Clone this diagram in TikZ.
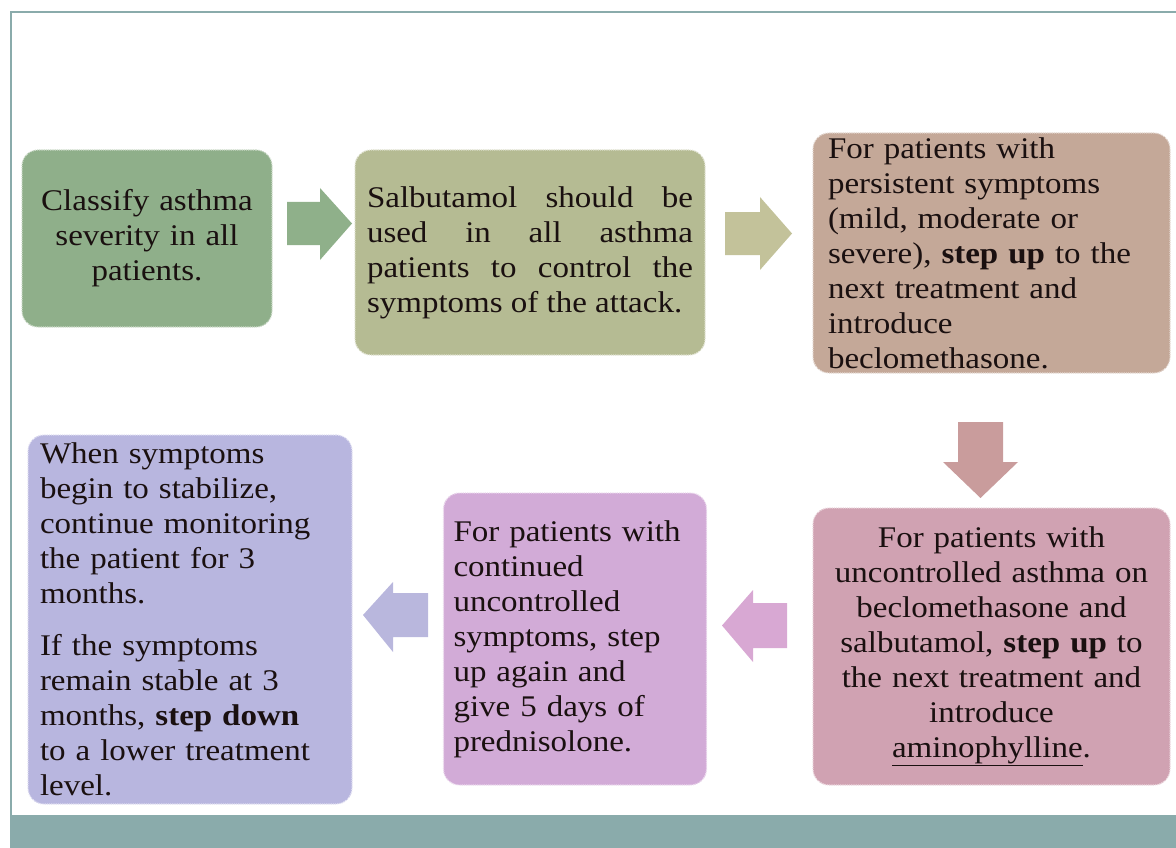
\documentclass[tikz,border=0pt]{standalone}
\usepackage{fontspec}
\setmainfont{Liberation Serif}[FakeStretch=1.1]
\definecolor{frameC}{HTML}{8AABAB}
\definecolor{cA}{HTML}{8FAF8A}
\definecolor{cAa}{HTML}{8FB08A}
\definecolor{cB}{HTML}{B5BB93}
\definecolor{cBa}{HTML}{C3C29A}
\definecolor{cC}{HTML}{C4A898}
\definecolor{cCa}{HTML}{C99C9C}
\definecolor{cD}{HTML}{D0A2B2}
\definecolor{cDa}{HTML}{D8A8D3}
\definecolor{cE}{HTML}{D2ABD7}
\definecolor{cEa}{HTML}{B9B7DD}
\definecolor{cF}{HTML}{B8B6DF}
\definecolor{txt}{HTML}{1A1010}
\tikzset{
  stepbox/.style={rectangle, rounded corners=16pt, inner sep=0pt,
    fill=#1, draw=white!55!#1, densely dotted, line width=1.2pt,
    font=\fontsize{30}{35}\selectfont, text=txt},
}
\begin{document}
\begin{tikzpicture}[x=1pt,y=-1pt]
\useasboundingbox (0,0) rectangle (1176,848);
% frame
\draw[frameC, line width=2pt] (11,848) -- (11,12) -- (1176,12);
\fill[frameC] (10,815) rectangle (1176,848);
% boxes
\node[stepbox=cA, minimum width=250pt, minimum height=177pt, text width=230pt, align=center]
  (b1) at (147,238.5) {Classify asthma\\ severity in all\\ patients.};
\node[stepbox=cB, minimum width=350pt, minimum height=205pt, text width=326pt, align=justify]
  (b2) at (530,252.5) {Salbutamol should be\linebreak used in all asthma\linebreak patients to control the\linebreak symptoms of the attack.};
\node[stepbox=cC, minimum width=357pt, minimum height=240pt, text width=327pt, align=left]
  (b3) at (991.5,253) {For patients with\\ persistent symptoms\\ (mild, moderate or\\ severe), \textbf{step up} to the\\ next treatment and\\ introduce\\ beclomethasone.};
\node[stepbox=cD, minimum width=357pt, minimum height=277pt, text width=337pt, align=center]
  (b4) at (991.5,646.5) {For patients with\\ uncontrolled asthma on\\ beclomethasone and\\ salbutamol, \textbf{step up} to\\ the next treatment and\\ introduce\\ \underline{aminophylline}.};
\node[stepbox=cE, minimum width=263pt, minimum height=292pt, text width=243pt, align=left]
  (b5) at (575,639) {For patients with\\ continued\\ uncontrolled\\ symptoms, step\\ up again and\\ give 5 days of\\ prednisolone.};
\node[stepbox=cF, minimum width=324pt, minimum height=369pt, text width=300pt, align=left]
  (b6) at (190,619.5) {When symptoms\\ begin to stabilize,\\ continue monitoring\\ the patient for 3\\ months.\\[17pt] If the symptoms\\ remain stable at 3\\ months, \textbf{step down}\\ to a lower treatment\\ level.};
% block arrows
\fill[cAa] (287,202) -- (320,202) -- (320,188) -- (352,223.5) -- (320,260) -- (320,245) -- (287,245) -- cycle;
\fill[cBa] (725,212) -- (760,212) -- (760,197) -- (792,233.5) -- (760,270) -- (760,255) -- (725,255) -- cycle;
\fill[cCa] (958,422) -- (1003,422) -- (1003,462) -- (1018,462) -- (980.5,498) -- (943,462) -- (958,462) -- cycle;
\fill[cDa] (787,603) -- (753,603) -- (753,590) -- (722,625.5) -- (753,662) -- (753,648) -- (787,648) -- cycle;
\fill[cEa] (428,593) -- (393,593) -- (393,582) -- (363,615) -- (393,652) -- (393,637) -- (428,637) -- cycle;
\end{tikzpicture}
\end{document}
